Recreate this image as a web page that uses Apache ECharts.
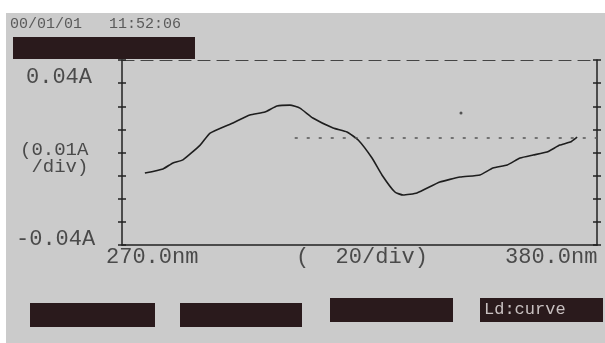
<!DOCTYPE html>
<html>
<head>
<meta charset="utf-8">
<script src="https://cdn.jsdelivr.net/npm/echarts@6/dist/echarts.min.js"></script>
<style>
  html, body { margin: 0; padding: 0; background: #fff; }
  #main { width: 605px; height: 343px; }
</style>
</head>
<body>
<div id="main"></div>
<script>
// длина волны, нм
const wavelengths = [275.3, 279.5, 281.8, 284.1, 288.1, 290.4, 295.7, 299.6, 303.1, 305.9, 308.9, 311.2,
    314.2, 318.9, 322.1, 324.7, 327.9, 330.2, 333.2, 335.1, 338.3, 343.6, 348.3, 352.9, 355.9,
    359.2, 362.2, 365.2, 368.4, 371.4, 373.8, 375.4];
// поглощение, A
const absorbance = [-0.0089, -0.0071, -0.0045, -0.0032, 0.0032, 0.0084, 0.0128, 0.0162, 0.0175, 0.0201, 0.0205, 0.0192,
    0.0149, 0.0106, 0.0089, 0.0054, -0.0024, -0.0097, -0.0171, -0.0184, -0.0175, -0.0128, -0.0106, -0.0097, -0.0067,
    -0.0054, -0.0024, -0.0011, 0.0002, 0.0032, 0.0045, 0.0067];
const baseLine = [[310, 0.0063], [380, 0.0063]]; // пунктир
const strayDot = [[348.5, 0.0171]];

const xLabels = ['270.0nm', '(  20/div)', '380.0nm'];
const yLabels = ['0.04A', '(0.01A\n /div)', '-0.04A'];
const headerText = '00/01/01   11:52:06';
const buttonLabels = ['', '', '', 'Ld:curve'];

const chart = echarts.init(document.getElementById('main'), null, { renderer: 'canvas' });

const font = 'Liberation Mono';
const ink = '#4a4a4a';

const tickAxis = (pos, inside) => ({
    type: 'value',
    position: pos,
    min: -0.04,
    max: 0.04,
    interval: 0.01,
    axisLine: { show: inside, onZero: false, lineStyle: { color: '#222', width: 1.5 } },
    axisTick: { show: true, inside: inside, length: 4, lineStyle: { color: '#222', width: 1.5 } },
    axisLabel: { show: false },
    splitLine: { show: false }
});

const buttons = [[30, 303, 125], [180, 303, 122], [330, 298, 123], [480, 298, 123]];

const option = {
    backgroundColor: '#fff',
    animation: false,
    grid: { left: 122, right: 8, top: 60, bottom: 98 },
    xAxis: [
        {
            type: 'value', min: 270, max: 380, position: 'bottom',
            axisLine: { onZero: false, lineStyle: { color: '#222', width: 1.5 } },
            axisTick: { show: false }, axisLabel: { show: false }, splitLine: { show: false }
        },
        {
            type: 'value', min: 270, max: 380, position: 'top',
            axisLine: { onZero: false, lineStyle: { color: '#444', width: 1.2, type: [12, 7] } },
            axisTick: { show: false }, axisLabel: { show: false }, splitLine: { show: false }
        }
    ],
    yAxis: [tickAxis('left', true), tickAxis('left', false), tickAxis('right', true), tickAxis('right', false)],
    series: [
        {
            type: 'line',
            data: wavelengths.map((w, i) => [w, absorbance[i]]),
            showSymbol: false,
            smooth: 0.15,
            lineStyle: { color: '#1e1e1e', width: 1.6 }
        },
        {
            type: 'line',
            data: baseLine,
            showSymbol: false,
            lineStyle: { color: '#555', width: 1.5, type: [3, 9] }
        },
        {
            type: 'scatter',
            data: strayDot,
            symbolSize: 3,
            itemStyle: { color: '#333' }
        }
    ],
    graphic: [
        { type: 'rect', z: -10, shape: { x: 6, y: 13, width: 605, height: 343 }, style: { fill: '#cbcbcb' } },
        { type: 'text', left: 10, top: 17, style: { text: headerText, font: '15px ' + font, fill: '#5a5a5a' } },
        { type: 'rect', shape: { x: 13, y: 37, width: 182, height: 22 }, style: { fill: '#2a1a1c' } },
        { type: 'text', left: 26, top: 66, style: { text: yLabels[0], font: '22px ' + font, fill: ink } },
        { type: 'text', left: 20, top: 140, style: { text: yLabels[1], font: '19px ' + font, fill: ink, lineHeight: 17, align: 'left' } },
        { type: 'text', left: 16, top: 228, style: { text: yLabels[2], font: '22px ' + font, fill: ink } },
        { type: 'text', left: 106, top: 246, style: { text: xLabels[0], font: '22px ' + font, fill: ink } },
        { type: 'text', left: 296, top: 246, style: { text: xLabels[1], font: '22px ' + font, fill: ink } },
        { type: 'text', left: 505, top: 246, style: { text: xLabels[2], font: '22px ' + font, fill: ink } }
    ].concat(buttons.map((b, i) => ({
        type: 'group',
        children: [
            { type: 'rect', shape: { x: b[0], y: b[1], width: b[2], height: 24 }, style: { fill: '#2a1a1c' } },
            { type: 'text', x: b[0] + 4, y: b[1] + 3, style: { text: buttonLabels[i], font: '17px ' + font, fill: '#c8c0c0' } }
        ]
    })))
};

chart.setOption(option);
window.addEventListener('resize', function() {
    chart.resize();
});
</script>
</body>
</html>
